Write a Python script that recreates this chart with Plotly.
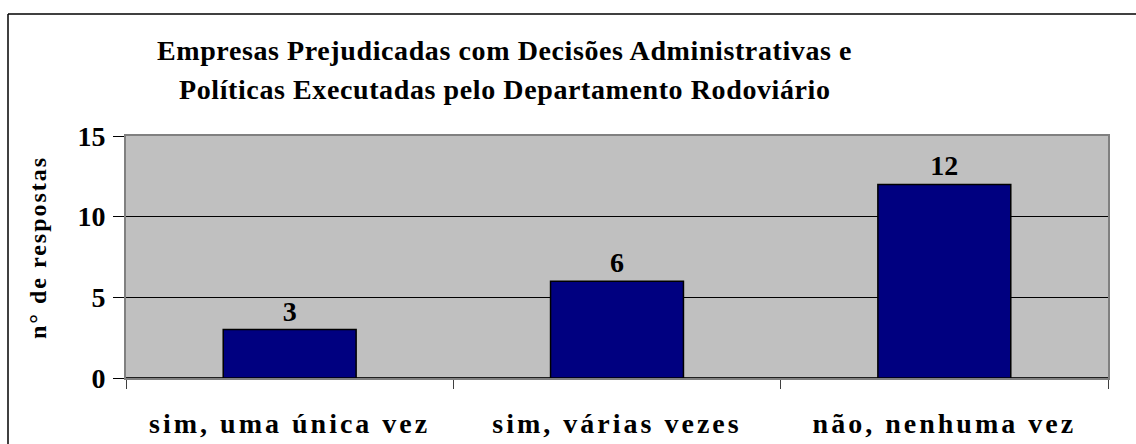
import plotly.graph_objects as go

categories = ["sim, uma única vez", "sim, várias vezes", "não, nenhuma vez"]
values = [3, 6, 12]
y_ticks = [0, 5, 10, 15]
title_lines = ["Empresas Prejudicadas com Decisões Administrativas e",
               "Políticas Executadas pelo Departamento Rodoviário"]
y_title = "n° de respostas"

FONT = "Liberation Serif, Times New Roman, serif"
W, H = 1136, 444
L, R, T, B = 126, 28, 136, 66
PW, PH = W - L - R, H - T - B
EXTRA = 30  # figure drawn a bit wider than the window; the frame runs off the edge


def px_x(px):
    return (px - L) / PW


def px_y(py):
    return (H - B - py) / PH


def spaced(s, sp):
    return f'<span style="letter-spacing:{sp}px">{s}</span>'


fig = go.Figure()
fig.add_trace(go.Bar(
    x=categories, y=values,
    marker=dict(color="#000080", line=dict(color="#000000", width=1.5)),
    width=0.406,
    text=[str(v) for v in values], textposition="outside",
    textfont=dict(family=FONT, size=28, color="#000000", weight="bold"),
    cliponaxis=False,
))

fig.update_layout(
    width=W + EXTRA, height=H,
    margin=dict(l=L, r=R + EXTRA, t=T, b=B, pad=0, autoexpand=False),
    paper_bgcolor="#FFFFFF", plot_bgcolor="#C0C0C0",
    showlegend=False,
    font=dict(family=FONT, color="#000000"),
    bargap=0.594,
)

fig.update_xaxes(
    type="category", automargin=False,
    tickmode="array", tickvals=categories,
    ticktext=[spaced(c, 3) for c in categories],
    tickson="boundaries", ticks="outside", ticklen=9, tickcolor="#404040", tickwidth=1,
    ticklabelstandoff=19,
    tickfont=dict(family=FONT, size=28, color="#000000", weight="bold"),
    showline=True, linecolor="#808080", linewidth=2, mirror=True,
    showgrid=False,
)
fig.update_yaxes(
    range=[0, 15], tickmode="array", tickvals=y_ticks, automargin=False,
    ticks="outside", ticklen=11, tickcolor="#000000", tickwidth=1,
    ticklabelstandoff=2,
    tickfont=dict(family=FONT, size=28, color="#000000", weight="bold"),
    showline=True, linecolor="#808080", linewidth=2, mirror=True,
    showgrid=True, gridcolor="#000000", gridwidth=1,
    zeroline=True, zerolinecolor="#202020", zerolinewidth=2,
)

# title lines
fig.add_annotation(text=spaced(title_lines[0], 0.6), xref="paper", yref="paper",
                   x=px_x(504), y=px_y(50), xanchor="center", yanchor="middle",
                   showarrow=False,
                   font=dict(family=FONT, size=28, color="#000000", weight="bold"))
fig.add_annotation(text=spaced(title_lines[1], 0.6), xref="paper", yref="paper",
                   x=px_x(505), y=px_y(89), xanchor="center", yanchor="middle",
                   showarrow=False,
                   font=dict(family=FONT, size=28, color="#000000", weight="bold"))
# y axis title
fig.add_annotation(text=spaced(y_title, 2), xref="paper", yref="paper",
                   x=px_x(38), y=px_y(248), xanchor="center", yanchor="middle",
                   textangle=-90, showarrow=False,
                   font=dict(family=FONT, size=24, color="#000000", weight="bold"))

# outer chart border: only top and left edges are visible in the frame
fig.add_shape(type="line", xref="paper", yref="paper",
              x0=px_x(8), x1=px_x(W + EXTRA + 20), y0=px_y(14), y1=px_y(14),
              line=dict(color="#000000", width=1.5), layer="below")
fig.add_shape(type="line", xref="paper", yref="paper",
              x0=px_x(8), x1=px_x(8), y0=px_y(14), y1=px_y(H + 20),
              line=dict(color="#000000", width=1.5), layer="below")

fig.write_html("out.html", config={"displayModeBar": False},
               post_script="document.body.style.margin='0';document.body.style.overflow='hidden';"
                           "document.documentElement.style.overflow='hidden';")
